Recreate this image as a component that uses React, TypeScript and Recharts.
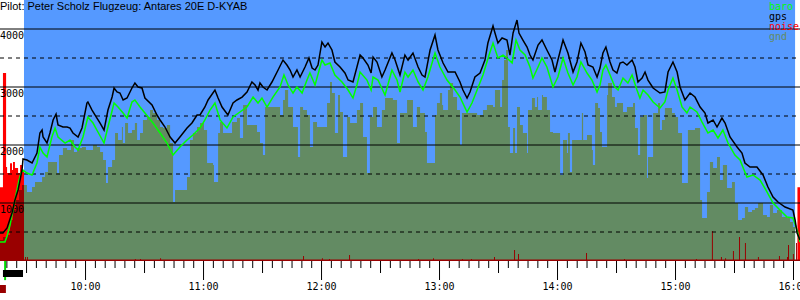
import React from "react";
import { Area, ComposedChart, Line, ReferenceArea, ReferenceLine, XAxis, YAxis } from "recharts";

// time in minutes after midnight, altitude in metres
const gps: [number, number][] = [
  [556.5, 483], [558.0, 483], [560.1, 569], [562.6, 828], [564.1, 1052], [565.7, 1224], [566.7, 1396], [567.7, 1569],
  [568.2, 1759], [570.2, 1741], [572.8, 1690], [575.3, 1862], [576.8, 2207], [577.9, 2258], [578.4, 2138], [580.4, 2034],
  [581.9, 2207], [583.5, 2431], [585.0, 2534], [586.0, 2345], [588.5, 2310], [590.6, 2310], [592.1, 2293], [593.6, 2207],
  [596.2, 2138], [598.2, 2293], [600.7, 2724], [601.2, 2741], [603.3, 2603], [605.8, 2465], [607.4, 2379], [609.4, 2258],
  [611.4, 2603], [613.5, 2827], [614.5, 2983], [616.0, 2914], [617.5, 2896], [619.1, 2776], [621.1, 2810], [623.6, 2983],
  [625.1, 3069], [626.7, 3000], [628.7, 2983], [630.2, 2810], [633.8, 2689], [636.3, 2517], [637.9, 2431], [640.4, 2310],
  [643.0, 2138], [645.5, 2034], [648.0, 2138], [651.6, 2293], [654.1, 2379], [656.7, 2517], [658.2, 2517], [660.7, 2655],
  [662.3, 2776], [665.8, 2948], [667.4, 2810], [669.4, 2655], [672.4, 2517], [675.0, 2724], [677.0, 2776], [679.6, 2827],
  [682.1, 2914], [684.6, 3086], [686.2, 3034], [687.7, 2948], [688.7, 3069], [690.2, 3000], [692.3, 2948], [694.8, 3086],
  [697.9, 3293], [700.4, 3465], [702.4, 3379], [704.0, 3293], [705.5, 3172], [707.5, 3293], [709.1, 3172], [711.6, 3345],
  [713.6, 3500], [715.2, 3327], [716.7, 3293], [718.2, 3379], [720.2, 3776], [721.8, 3689], [723.3, 3758], [725.3, 3638],
  [726.8, 3431], [729.4, 3345], [731.9, 3241], [733.5, 3120], [736.0, 3086], [738.0, 3345], [739.6, 3551], [741.1, 3500],
  [743.6, 3379], [745.2, 3241], [746.2, 3517], [748.2, 3431], [750.7, 3172], [752.3, 3293], [755.8, 3586], [757.4, 3465],
  [759.9, 3207], [762.4, 3551], [764.0, 3465], [766.5, 3586], [769.1, 3345], [771.1, 3207], [772.6, 3172], [775.2, 3638],
  [777.7, 3896], [779.2, 3638], [781.8, 3414], [784.3, 3258], [787.9, 3258], [790.4, 3086], [791.9, 2948], [794.0, 2810],
  [795.5, 2914], [798.0, 3172], [800.6, 3241], [803.1, 3465], [804.6, 3758], [807.2, 4051], [808.2, 3931], [809.7, 3758],
  [811.8, 3845], [814.3, 3810], [815.8, 3551], [817.4, 3931], [819.4, 4155], [820.4, 3931], [822.4, 3810], [824.5, 3689],
  [826.0, 3551], [827.5, 3465], [830.1, 3724], [832.1, 3810], [834.6, 3638], [837.2, 3465], [838.7, 3258], [840.2, 3465],
  [842.8, 3810], [845.3, 3586], [847.9, 3258], [849.9, 3431], [851.9, 3758], [854.0, 3603], [855.5, 3379], [858.0, 3345],
  [860.1, 3172], [861.6, 3327], [863.1, 3586], [864.6, 3689], [866.7, 3431], [868.2, 3293], [870.2, 3241], [871.8, 3414],
  [873.3, 3431], [875.3, 3379], [877.9, 3465], [879.4, 3345], [880.9, 3086], [883.0, 3155], [884.5, 3258], [886.0, 3120],
  [888.6, 2983], [892.1, 2896], [894.6, 2914], [896.2, 3258], [898.7, 3431], [900.8, 3258], [902.3, 3000], [904.8, 2776],
  [907.4, 2896], [909.9, 2827], [912.5, 2655], [915.0, 2552], [916.5, 2379], [919.1, 2431], [921.1, 2310], [923.6, 2465],
  [925.2, 2379], [927.7, 2138], [931.3, 1965], [933.8, 1862], [935.3, 1690], [937.9, 1621], [941.4, 1621], [944.5, 1483],
  [947.0, 1276], [949.6, 1103], [952.1, 1017], [955.7, 931], [959.7, 879], [960.8, 707], [961.8, 483], [963.3, 362],
];

const baro: [number, number][] = [
  [556.5, 328], [559.0, 328], [560.1, 431], [561.6, 621], [563.1, 879], [564.6, 1138], [566.2, 1396], [567.2, 1517],
  [568.2, 1569], [570.2, 1517], [572.8, 1483], [575.3, 1690], [576.8, 1965], [578.4, 1862], [580.4, 1793], [582.9, 2138],
  [584.5, 2293], [586.0, 2138], [589.6, 2034], [592.1, 2086], [594.6, 1965], [596.2, 1914], [598.7, 2138], [601.2, 2483],
  [603.8, 2379], [606.3, 2224], [609.4, 2034], [611.4, 2310], [614.5, 2724], [616.5, 2655], [619.1, 2552], [621.1, 2465],
  [623.6, 2741], [625.1, 2776], [627.7, 2655], [630.2, 2552], [634.3, 2379], [637.9, 2207], [641.4, 2034], [644.5, 1827],
  [648.0, 1965], [651.6, 2086], [654.6, 2172], [658.2, 2293], [660.7, 2431], [663.3, 2603], [665.8, 2724], [668.4, 2431],
  [671.9, 2293], [675.0, 2483], [678.5, 2569], [682.1, 2655], [685.2, 2827], [687.7, 2724], [689.7, 2810], [692.3, 2655],
  [695.3, 2827], [698.9, 3000], [700.9, 3207], [703.0, 3034], [705.5, 2896], [707.5, 3000], [710.1, 2896], [712.6, 3120],
  [714.1, 3241], [716.7, 3034], [720.2, 3465], [721.8, 3379], [724.3, 3414], [726.8, 3207], [730.4, 3086], [733.5, 2948],
  [736.0, 2810], [738.0, 3034], [739.6, 3258], [743.1, 3120], [745.2, 2948], [746.2, 3172], [748.7, 3120], [752.3, 2862],
  [755.8, 3293], [758.4, 3120], [759.9, 2914], [762.4, 3258], [764.0, 3172], [766.5, 3293], [769.1, 3086], [771.6, 2948],
  [774.1, 3172], [777.7, 3586], [780.2, 3345], [783.8, 3120], [787.9, 2948], [790.4, 2827], [794.0, 2569], [796.5, 2724],
  [799.1, 2948], [802.1, 3207], [805.2, 3551], [807.2, 3758], [809.7, 3500], [812.3, 3551], [814.3, 3500], [816.9, 3414],
  [818.9, 3810], [820.9, 3638], [823.5, 3551], [826.0, 3345], [827.5, 3155], [830.1, 3345], [832.1, 3500], [834.6, 3345],
  [837.7, 3000], [840.2, 3172], [842.8, 3500], [845.3, 3241], [847.9, 3034], [849.9, 3172], [851.9, 3431], [855.0, 3241],
  [857.5, 3120], [860.1, 2914], [861.6, 3034], [863.1, 3293], [864.6, 3379], [866.7, 3207], [869.2, 3000], [870.8, 2948],
  [873.3, 3155], [875.8, 3069], [877.9, 3207], [880.4, 2948], [881.9, 2810], [883.5, 2948], [886.0, 2862], [888.6, 2741],
  [892.1, 2638], [894.6, 2741], [896.2, 2948], [898.7, 3155], [900.8, 2948], [903.3, 2655], [905.8, 2552], [907.4, 2655],
  [910.9, 2569], [913.5, 2396], [916.5, 2207], [919.1, 2258], [921.6, 2121], [924.1, 2258], [926.7, 2034], [930.2, 1827],
  [932.8, 1741], [936.3, 1448], [939.4, 1483], [943.0, 1396], [946.5, 1190], [949.6, 1000], [953.1, 879], [956.7, 759],
  [959.7, 741], [961.8, 534], [963.3, 328],
];

const gnd: [number, number][] = [
  [568.7, 1310], [570.2, 1190], [572.8, 1276], [574.3, 1362], [577.9, 1448], [579.4, 1534], [580.9, 1707], [585.5, 1517],
  [586.5, 1827], [588.5, 1948], [590.6, 1914], [592.6, 2086], [594.1, 1879], [595.7, 1948], [598.2, 1965], [600.2, 1914],
  [603.8, 2000], [605.8, 1965], [607.4, 1879], [608.9, 1741], [610.4, 1345], [611.4, 1621], [613.5, 1741], [615.0, 2207],
  [616.5, 2086], [618.5, 2310], [619.0, 2034], [620.1, 2379], [621.6, 2207], [623.6, 2258], [625.1, 2379], [626.2, 2086],
  [627.7, 2207], [629.2, 2431], [631.3, 2483], [632.8, 2603], [634.3, 2552], [636.3, 2431], [637.9, 2310], [639.4, 2293],
  [641.4, 2345], [643.0, 2034], [644.5, 1017], [645.5, 1224], [651.6, 1448], [653.1, 2086], [654.6, 2207], [656.7, 2310],
  [658.2, 2379], [660.2, 2258], [661.8, 1690], [664.8, 1655], [665.3, 1362], [667.4, 2207], [668.4, 2396], [669.9, 2207],
  [674.5, 2396], [677.0, 2465], [678.5, 2121], [680.1, 2689], [682.1, 2345], [687.2, 2224], [688.7, 2034], [690.2, 1827],
  [691.3, 2655], [698.9, 2517], [700.4, 2776], [701.4, 2948], [703.0, 2655], [705.5, 2310], [708.0, 1793], [709.1, 2655],
  [710.6, 2603], [712.6, 2517], [714.1, 1965], [715.7, 2396], [717.7, 2310], [722.8, 2724], [724.3, 3086], [725.3, 2896],
  [726.8, 2207], [728.4, 2862], [729.4, 2569], [730.9, 1793], [733.0, 2483], [734.5, 2379], [738.0, 2603], [739.6, 2724],
  [741.1, 2138], [743.1, 1517], [744.6, 2483], [746.2, 2655], [748.2, 2310], [750.7, 2603], [752.3, 2810], [756.3, 2776],
  [758.4, 2034], [759.9, 2552], [763.5, 2776], [766.5, 2310], [768.5, 2655], [770.1, 2552], [772.6, 2224], [773.6, 1690],
  [777.7, 2517], [778.7, 2724], [780.2, 2896], [781.3, 2689], [781.8, 2603], [784.3, 2948], [785.3, 3069], [786.9, 2827],
  [788.9, 2603], [790.4, 2000], [791.4, 2552], [799.1, 2517], [802.1, 2603], [804.1, 2689], [807.2, 2655], [808.2, 2948],
  [810.8, 2655], [811.8, 3120], [812.8, 3465], [813.8, 3638], [814.8, 2310], [815.8, 1862], [817.4, 2293], [818.4, 1862],
  [819.4, 2655], [820.9, 2345], [822.4, 2207], [824.5, 1862], [825.0, 2603], [827.0, 2810], [828.5, 2655], [829.6, 2827],
  [830.1, 2603], [832.1, 2862], [832.6, 2827], [834.6, 2603], [836.2, 2224], [837.7, 2207], [841.3, 1483], [842.8, 2086],
  [844.8, 1862], [845.3, 2207], [846.3, 1534], [847.4, 2086], [852.4, 2552], [853.0, 2086], [855.0, 2172], [857.5, 1914],
  [858.0, 1655], [859.1, 2724], [860.6, 2638], [861.6, 2224], [862.6, 1965], [865.2, 2862], [865.7, 3069], [867.7, 2827],
  [869.2, 2655], [870.2, 2724], [873.3, 2569], [875.3, 2655], [878.4, 2724], [879.4, 2293], [880.9, 1827], [882.0, 2483],
  [883.5, 2517], [885.5, 1431], [886.0, 1793], [888.6, 2552], [891.1, 2724], [892.1, 2258], [893.1, 2431], [894.6, 2638],
  [898.2, 2552], [899.7, 2483], [901.3, 2207], [903.3, 1345], [906.3, 2258], [909.9, 2293], [912.5, 1052], [913.5, 741],
  [916.0, 1190], [917.5, 1707], [919.1, 1603], [921.1, 1793], [922.6, 1396], [924.1, 1655], [926.2, 1259], [928.7, 1362],
  [930.2, 1000], [931.8, 707], [933.8, 741], [935.3, 931], [936.9, 845], [938.9, 879], [940.4, 914], [942.0, 1000],
  [944.5, 793], [946.5, 759], [948.0, 965], [949.6, 828], [951.6, 879], [954.1, 759], [956.7, 741], [958.2, 672],
  [959.7, 586], [960.8, 483],
];

// engine noise level (0..1000)
const noise: [number, number][] = [
  [556.5, 80], [558.0, 92], [560.1, 100], [561.6, 157], [563.1, 195], [564.6, 234], [566.2, 272], [567.7, 291],
  [568.7, 6], [569.2, 15], [569.7, 6], [570.2, 15], [570.7, 6], [625.1, 8], [625.6, 6], [627.7, 8], [628.2, 6],
  [637.9, 11], [638.4, 6], [710.6, 19], [711.1, 6], [720.2, 11], [720.7, 6], [723.8, 8], [724.3, 6], [734.0, 23],
  [734.5, 6], [769.1, 8], [769.6, 6], [776.7, 11], [777.2, 6], [791.4, 8], [791.9, 6], [796.0, 8], [796.5, 6],
  [807.7, 15], [808.2, 6], [817.9, 42], [818.4, 6], [819.9, 27], [820.4, 6], [854.5, 31], [855.0, 6], [873.8, 8],
  [874.3, 6], [910.4, 8], [910.9, 6], [918.5, 115], [919.0, 6], [923.1, 15], [923.6, 6], [925.2, 11], [925.7, 6],
  [929.2, 38], [929.7, 6], [932.3, 92], [932.8, 6], [935.3, 69], [935.8, 6], [941.9, 15], [942.4, 6], [952.6, 19],
  [953.1, 6], [956.7, 15], [957.2, 61], [957.7, 6], [959.7, 27], [960.2, 6], [961.3, 69], [961.8, 6], [963.3, 6],
];

const noisePeak: [number, number][] = [
  [556.5, 283], [558.0, 720], [559.6, 360], [560.1, 337], [561.6, 375], [562.6, 349], [563.1, 379], [564.1, 356],
  [565.7, 337], [566.7, 368], [567.7, 341], [568.7, 0], [962.0, 0], [962.0, 283], [963.3, 283],
];

const scoredWindow = [568.7, 960.8];
const takeoff = [558.6, 559.6];
const engineRun = [558.0, 568.2];
const startMark = [556.5, 559.5];

const solidLevels = [1000, 2000, 3000, 4000];
const dashedLevels = [500, 1500, 2500, 3500];
const hourLabels = ["10:00", "11:00", "12:00", "13:00", "14:00", "15:00", "16:00"];

const legendItems = [
  { name: "baro", color: "#00ff00" },
  { name: "gps", color: "#000000" },
  { name: "noise", color: "#ff0000" },
  { name: "gnd", color: "#648b64" },
];

const MONO = "'DejaVu Sans Mono', monospace";
const toRows = (pts: [number, number][]) => pts.map(([t, v]) => ({ t, v }));

const hourMinutes = hourLabels.map((h) => Number(h.split(":")[0]) * 60);
const timeTicks: number[] = [];
for (let m = 560; m <= 960; m += 5) timeTicks.push(m);

const TimeTick = (props: any) => {
  const { x, y, payload } = props;
  const m = payload.value;
  const len = m % 60 === 0 ? 19 : m % 30 === 0 ? 12 : 7;
  const idx = hourMinutes.indexOf(m);
  return (
    <g>
      <line x1={x} x2={x} y1={y} y2={y + len} stroke="#000" strokeWidth={1} />
      {idx >= 0 && (
        <text x={x} y={y + 29} textAnchor="middle" fontFamily={MONO} fontSize={10} fill="#000">
          {hourLabels[idx]}
        </text>
      )}
    </g>
  );
};

const levelLabel = (value: number) => (props: any) => {
  const vb = props.viewBox || {};
  return (
    <text x={vb.x ?? 0} y={(vb.y ?? 0) + 10} fontFamily={MONO} fontSize={10} fill="#000">
      {value}
    </text>
  );
};

export default function App() {
  return (
    <div style={{ position: "absolute", left: 0, top: 0, width: 800, height: 300, background: "#fff" }}>
      <ComposedChart width={800} height={300} margin={{ top: 0, right: 0, bottom: 0, left: 0 }}>
        <XAxis
          dataKey="t"
          type="number"
          domain={[556.5, 963.3]}
          allowDataOverflow
          ticks={timeTicks}
          interval={0}
          tick={<TimeTick />}
          tickLine={false}
          axisLine={false}
          tickSize={0}
          tickMargin={0}
          height={39}
        />
        <YAxis yAxisId="alt" domain={[0, 4500]} allowDataOverflow hide />
        <YAxis yAxisId="noise" domain={[0, 1000]} allowDataOverflow hide />

        <ReferenceArea
          yAxisId="alt"
          x1={scoredWindow[0]}
          x2={scoredWindow[1]}
          y1={0}
          y2={4500}
          fill="#5599ff"
          fillOpacity={1}
          stroke="none"
          zIndex={-50}
        />

        <Area
          yAxisId="alt"
          data={toRows(gnd)}
          dataKey="v"
          type="stepAfter"
          fill="#638b63"
          fillOpacity={1}
          stroke="none"
          dot={false}
          activeDot={false}
          isAnimationActive={false}
          zIndex={100}
        />
        <Area
          yAxisId="noise"
          data={toRows(noisePeak)}
          dataKey="v"
          type="stepAfter"
          fill="#ff0000"
          fillOpacity={1}
          stroke="none"
          dot={false}
          activeDot={false}
          isAnimationActive={false}
          zIndex={110}
        />
        <Area
          yAxisId="noise"
          data={toRows(noise)}
          dataKey="v"
          type="stepAfter"
          fill="#990000"
          fillOpacity={1}
          stroke="none"
          dot={false}
          activeDot={false}
          isAnimationActive={false}
          zIndex={120}
        />

        {solidLevels.map((lv) => (
          <ReferenceLine
            key={"s" + lv}
            yAxisId="alt"
            y={lv}
            stroke="#000"
            strokeWidth={1}
            label={levelLabel(lv)}
            zIndex={300}
          />
        ))}
        {dashedLevels.map((lv) => (
          <ReferenceLine
            key={"d" + lv}
            yAxisId="alt"
            y={lv}
            stroke="#000"
            strokeWidth={1}
            strokeDasharray="4 4"
            zIndex={300}
          />
        ))}

        <ReferenceArea yAxisId="alt" x1={takeoff[0]} x2={takeoff[1]} y1={-330} y2={0} fill="#00dd00" fillOpacity={1} stroke="none" ifOverflow="visible" zIndex={300} />
        <ReferenceArea yAxisId="alt" x1={engineRun[0]} x2={engineRun[1]} y1={-276} y2={-155} fill="#000" fillOpacity={1} stroke="none" ifOverflow="visible" zIndex={300} />
        <ReferenceArea yAxisId="alt" x1={startMark[0]} x2={startMark[1]} y1={-552} y2={-414} fill="#990000" fillOpacity={1} stroke="none" ifOverflow="visible" zIndex={300} />

        <Line
          yAxisId="alt"
          data={toRows(baro)}
          dataKey="v"
          type="linear"
          stroke="#00ff00"
          strokeWidth={1.5}
          dot={false}
          activeDot={false}
          isAnimationActive={false}
          zIndex={400}
        />
        <Line
          yAxisId="alt"
          data={toRows(gps)}
          dataKey="v"
          type="linear"
          stroke="#000000"
          strokeWidth={1.5}
          dot={false}
          activeDot={false}
          isAnimationActive={false}
          zIndex={410}
        />
      </ComposedChart>

      <svg width={800} height={300} style={{ position: "absolute", left: 0, top: 0, pointerEvents: "none" }}>
        <text x={0} y={10} fontFamily="'Liberation Sans', Arial, sans-serif" fontSize={11} fill="#000">
          Pilot: Peter Scholz Flugzeug: Antares 20E D-KYAB
        </text>
        {legendItems.map((it, i) => (
          <text key={it.name} x={769} y={10 + i * 10} fontFamily={MONO} fontSize={10} fill={it.color}>
            {it.name}
          </text>
        ))}
      </svg>
    </div>
  );
}
